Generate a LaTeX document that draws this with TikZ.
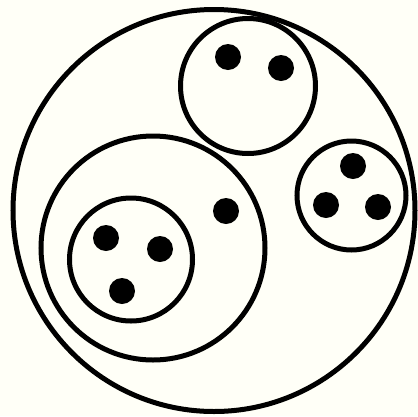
\documentclass[tikz,border=0pt]{standalone}
\begin{document}
\begin{tikzpicture}[x=1pt,y=-1pt,
  ring/.style={circle, draw=black, line width=5pt, inner sep=0pt, outer sep=0pt, minimum size=#1},
  dot/.style={circle, fill=black, inner sep=0pt, minimum size=26pt}]
\fill[white!97!yellow] (0,0) rectangle (418,416);
\useasboundingbox (0,0) rectangle (418,416);
\node[ring=402pt] (outer) at (214,210.5) {};
\node[ring=224pt] (big) at (153,248) {};
\node[ring=123pt] (inner) at (131,259.5) {};
\node[ring=135pt] (top) at (248,86) {};
\node[ring=109pt] (right) at (351.5,195.5) {};
\node[dot] (t1) at (228,57) {};
\node[dot] (t2) at (281,68) {};
\node[dot] (r1) at (353,166) {};
\node[dot] (r2) at (326,205) {};
\node[dot] (r3) at (378,207) {};
\node[dot] (b1) at (226,211) {};
\node[dot] (i1) at (106,238) {};
\node[dot] (i2) at (160,249) {};
\node[dot] (i3) at (122,291) {};
\end{tikzpicture}
\end{document}
